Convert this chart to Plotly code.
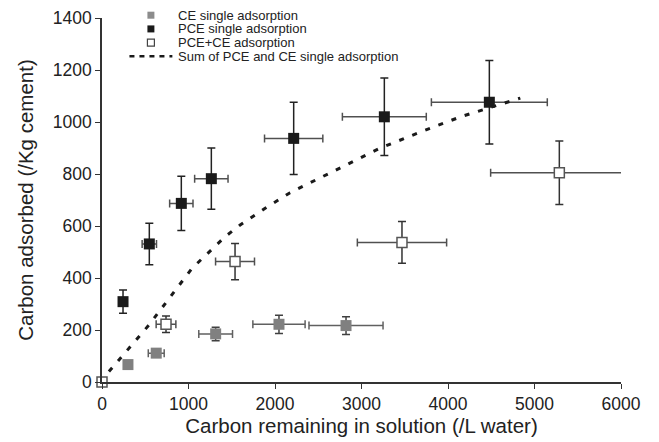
import plotly.graph_objects as go

# CE single adsorption
ce_x = [300, 627, 1314, 2046, 2821]
ce_y = [67, 111, 185, 222, 217]
ce_xerr = [25, 92, 195, 302, 428]
ce_yerr = [10, 15, 26, 35, 34]

# PCE single adsorption
pce_x = [243, 547, 917, 1264, 2216, 3264, 4478]
pce_y = [309, 531, 687, 782, 937, 1020, 1076]
pce_xerr = [20, 83, 135, 193, 337, 485, 670]
pce_yerr = [45, 80, 104, 118, 139, 149, 161]

# PCE+CE adsorption
mix_x = [0, 740, 1538, 3468, 5287]
mix_y = [0, 222, 463, 537, 805]
mix_xerr = [0, 114, 225, 516, 794]
mix_yerr = [0, 32, 70, 80, 122]

# Sum of PCE and CE single adsorption
sum_x = [80, 540, 1040, 1290, 1424, 1597, 1886, 2174, 2474, 2770, 3212, 3693, 4154, 4836]
sum_y = [40, 218, 437, 514, 559, 604, 668, 728, 777, 826, 899, 963, 1021, 1092]

legend_labels = [
    "CE single adsorption",
    "PCE single adsorption",
    "PCE+CE adsorption",
    "Sum of PCE and CE single adsorption",
]

# the page body adds an 8px offset; size the figure to compensate
OFF = 8
W, H = 659 - OFF, 442 - OFF
L, R, T, B = 101.5 - OFF, 37.5, 18.3 - OFF, 60.3
PW, PH = W - L - R, H - T - B

def px(xp):
    return (xp - OFF - L) / PW

def py(yp):
    return (H - B - (yp - OFF)) / PH

fig = go.Figure()

fig.add_trace(go.Scatter(
    x=ce_x, y=ce_y, mode="markers", name=legend_labels[0],
    marker=dict(symbol="square", size=11, color="#808080", line=dict(width=0)),
    error_x=dict(type="data", array=ce_xerr, color="#606060", thickness=1.5, width=4),
    error_y=dict(type="data", array=ce_yerr, color="#404040", thickness=1.5, width=4),
    cliponaxis=False,
))
fig.add_trace(go.Scatter(
    x=pce_x, y=pce_y, mode="markers", name=legend_labels[1],
    marker=dict(symbol="square", size=11, color="#1a1a1a", line=dict(width=0)),
    error_x=dict(type="data", array=pce_xerr, color="#505050", thickness=1.5, width=4),
    error_y=dict(type="data", array=pce_yerr, color="#222222", thickness=1.5, width=4),
    cliponaxis=False,
))
fig.add_trace(go.Scatter(
    x=mix_x, y=mix_y, mode="markers", name=legend_labels[2],
    marker=dict(symbol="square", size=10, color="white", line=dict(color="#555555", width=1.5)),
    error_x=dict(type="data", array=mix_xerr, color="#505050", thickness=1.5, width=4),
    error_y=dict(type="data", array=mix_yerr, color="#333333", thickness=1.5, width=4),
    cliponaxis=False,
))
fig.add_trace(go.Scatter(
    x=sum_x, y=sum_y, mode="lines", name=legend_labels[3],
    line=dict(color="#1a1a1a", width=3, dash="5px,9px"),
))

# manual legend (compact spacing like the original)
rows_y = [15.5, 29.2, 42.9, 56.6]
text_x = 177
mk_x = 150.5
half = 3.5
shapes = []
mk_styles = [
    dict(fillcolor="#8c8c8c", line=dict(width=0)),
    dict(fillcolor="#1a1a1a", line=dict(width=0)),
    dict(fillcolor="white", line=dict(color="#444444", width=1.2)),
]
for i, st in enumerate(mk_styles):
    shapes.append(dict(
        type="rect", xref="paper", yref="paper",
        x0=px(mk_x - half), x1=px(mk_x + half),
        y0=py(rows_y[i] + half), y1=py(rows_y[i] - half),
        **st,
    ))
shapes.append(dict(
    type="line", xref="paper", yref="paper",
    x0=px(129), x1=px(172), y0=py(rows_y[3]), y1=py(rows_y[3]),
    line=dict(color="#1a1a1a", width=2.5, dash="5px,5px"),
))

annotations = []
for i, lab in enumerate(legend_labels):
    annotations.append(dict(
        text=lab, xref="paper", yref="paper",
        x=px(text_x), y=py(rows_y[i]), xanchor="left", yanchor="middle",
        showarrow=False, font=dict(size=13, color="#222222"), borderpad=0,
    ))

font_family = "Liberation Sans, Arial, sans-serif"
fig.update_layout(
    width=W, height=H,
    margin=dict(l=L, r=R, t=T, b=B),
    paper_bgcolor="white", plot_bgcolor="white",
    font=dict(family=font_family, color="#222222"),
    showlegend=False,
    shapes=shapes,
    annotations=annotations,
    xaxis=dict(
        range=[0, 6000], dtick=1000, showgrid=False, zeroline=False,
        showline=True, linecolor="#333333", linewidth=1.5,
        ticks="outside", ticklen=5, tickcolor="#333333", tickwidth=1.2,
        tickfont=dict(size=17.5, color="#222222"),
        automargin=False,
        title=dict(text="Carbon remaining in solution (/L water)", font=dict(size=20.5, color="#222222"), standoff=6),
    ),
    yaxis=dict(
        range=[0, 1400], dtick=200, showgrid=False, zeroline=False,
        showline=True, linecolor="#333333", linewidth=1.5,
        ticks="outside", ticklen=5, tickcolor="#333333", tickwidth=1.2,
        tickfont=dict(size=17.5, color="#222222"),
        automargin=False,
        title=dict(text="Carbon adsorbed (/Kg cement)", font=dict(size=20.5, color="#222222"), standoff=14),
    ),
)

fig.write_html("out.html")
